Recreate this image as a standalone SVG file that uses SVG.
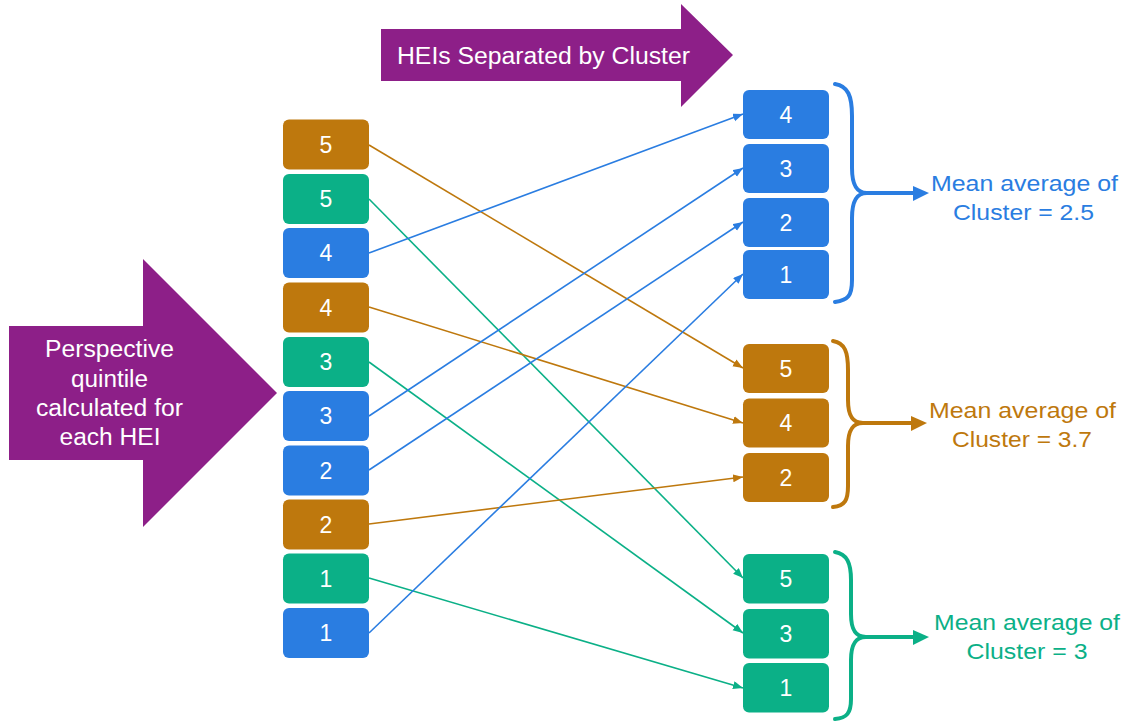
<svg xmlns="http://www.w3.org/2000/svg" width="1132" height="722" viewBox="0 0 1132 722">
<style>
text{font-family:"Liberation Sans",Arial,sans-serif}
.box text{fill:#fff;font-size:23px;text-anchor:middle}
.bl{fill:#2A7DE1}.br{fill:#BE780D}.gr{fill:#0BB087}
.lbl{font-size:22.5px;text-anchor:middle}
.ar{fill:#8D1F88}
.arT{fill:#fff;font-size:23px;text-anchor:middle}
.cb{stroke:#2A7DE1}.cr{stroke:#BE780D}.cg{stroke:#0BB087}
#connectors line{stroke-width:1.6;fill:none}
.brace{fill:none;stroke-width:4;stroke-linecap:round}
</style>
<defs>
<marker id="mb" markerUnits="userSpaceOnUse" markerWidth="12" markerHeight="10" refX="10" refY="4" orient="auto"><path d="M0,0 L10,4 L0,8 z" fill="#2A7DE1"/></marker>
<marker id="mr" markerUnits="userSpaceOnUse" markerWidth="12" markerHeight="10" refX="10" refY="4" orient="auto"><path d="M0,0 L10,4 L0,8 z" fill="#BE780D"/></marker>
<marker id="mg" markerUnits="userSpaceOnUse" markerWidth="12" markerHeight="10" refX="10" refY="4" orient="auto"><path d="M0,0 L10,4 L0,8 z" fill="#0BB087"/></marker>
</defs>

<g id="arrow-top">
<polygon class="ar" points="381,29 681,29 681,4 733,55 681,107 681,81 381,81"/>
<text class="arT" x="543.5" y="64" textLength="293" lengthAdjust="spacingAndGlyphs">HEIs Separated by Cluster</text>
</g>
<g id="arrow-left">
<polygon class="ar" points="9,326 143,326 143,259 277,393 143,527 143,460 9,460"/>
<text class="arT" x="109.5" y="357" textLength="129" lengthAdjust="spacingAndGlyphs">Perspective</text>
<text class="arT" x="109.5" y="387" textLength="77" lengthAdjust="spacingAndGlyphs">quintile</text>
<text class="arT" x="109.5" y="416" textLength="147" lengthAdjust="spacingAndGlyphs">calculated for</text>
<text class="arT" x="110" y="445" textLength="101" lengthAdjust="spacingAndGlyphs">each HEI</text>
</g>

<g id="connectors">
<line class="cr" x1="369" y1="145" x2="743" y2="368" marker-end="url(#mr)"/>
<line class="cg" x1="369" y1="199" x2="743" y2="578" marker-end="url(#mg)"/>
<line class="cb" x1="369" y1="253" x2="743" y2="114" marker-end="url(#mb)"/>
<line class="cr" x1="369" y1="307" x2="743" y2="423" marker-end="url(#mr)"/>
<line class="cg" x1="369" y1="362" x2="743" y2="633" marker-end="url(#mg)"/>
<line class="cb" x1="369" y1="416" x2="743" y2="168" marker-end="url(#mb)"/>
<line class="cb" x1="369" y1="470" x2="743" y2="222" marker-end="url(#mb)"/>
<line class="cr" x1="369" y1="524" x2="743" y2="477" marker-end="url(#mr)"/>
<line class="cg" x1="369" y1="578" x2="743" y2="688" marker-end="url(#mg)"/>
<line class="cb" x1="369" y1="633" x2="743" y2="274" marker-end="url(#mb)"/>
</g>

<g id="left-5a" class="box"><rect class="br" x="283" y="119.5" width="86" height="50" rx="6"/><text x="326" y="152.5">5</text></g>
<g id="left-5b" class="box"><rect class="gr" x="283" y="174" width="86" height="50" rx="6"/><text x="326" y="207">5</text></g>
<g id="left-4a" class="box"><rect class="bl" x="283" y="228" width="86" height="50" rx="6"/><text x="326" y="261">4</text></g>
<g id="left-4b" class="box"><rect class="br" x="283" y="282.5" width="86" height="50" rx="6"/><text x="326" y="315.5">4</text></g>
<g id="left-3a" class="box"><rect class="gr" x="283" y="337" width="86" height="50" rx="6"/><text x="326" y="370">3</text></g>
<g id="left-3b" class="box"><rect class="bl" x="283" y="391" width="86" height="50" rx="6"/><text x="326" y="424">3</text></g>
<g id="left-2a" class="box"><rect class="bl" x="283" y="445.5" width="86" height="50" rx="6"/><text x="326" y="478.5">2</text></g>
<g id="left-2b" class="box"><rect class="br" x="283" y="499.5" width="86" height="50" rx="6"/><text x="326" y="532.5">2</text></g>
<g id="left-1a" class="box"><rect class="gr" x="283" y="553.5" width="86" height="50" rx="6"/><text x="326" y="586.5">1</text></g>
<g id="left-1b" class="box"><rect class="bl" x="283" y="608" width="86" height="50" rx="6"/><text x="326" y="641">1</text></g>

<g id="blue-4" class="box"><rect class="bl" x="743" y="90" width="86" height="49" rx="6"/><text x="786" y="122.5">4</text></g>
<g id="blue-3" class="box"><rect class="bl" x="743" y="144" width="86" height="49" rx="6"/><text x="786" y="176.5">3</text></g>
<g id="blue-2" class="box"><rect class="bl" x="743" y="198" width="86" height="49" rx="6"/><text x="786" y="230.5">2</text></g>
<g id="blue-1" class="box"><rect class="bl" x="743" y="250" width="86" height="49" rx="6"/><text x="786" y="282.5">1</text></g>

<g id="brown-5" class="box"><rect class="br" x="743" y="344" width="86" height="49" rx="6"/><text x="786" y="376.5">5</text></g>
<g id="brown-4" class="box"><rect class="br" x="743" y="398.5" width="86" height="49" rx="6"/><text x="786" y="431">4</text></g>
<g id="brown-2" class="box"><rect class="br" x="743" y="453" width="86" height="49" rx="6"/><text x="786" y="485.5">2</text></g>

<g id="green-5" class="box"><rect class="gr" x="743" y="554" width="86" height="49.5" rx="6"/><text x="786" y="586.5">5</text></g>
<g id="green-3" class="box"><rect class="gr" x="743" y="609" width="86" height="49.5" rx="6"/><text x="786" y="641.5">3</text></g>
<g id="green-1" class="box"><rect class="gr" x="743" y="663" width="86" height="49.5" rx="6"/><text x="786" y="695.5">1</text></g>

<g id="brace-blue">
<path class="brace cb" d="M835,84 C848,86 852,96 852,116 L852,168 C852,184 856,193 867,193 C856,193 852,202 852,218 L852,280 C852,296 848,300 835,302"/>
<line class="cb" x1="866" y1="193" x2="916" y2="193" stroke-width="4"/>
<polygon fill="#2A7DE1" points="913,186 929,193 913,201"/>
<text class="lbl" fill="#2A7DE1" x="1024.5" y="191" textLength="187" lengthAdjust="spacingAndGlyphs">Mean average of</text>
<text class="lbl" fill="#2A7DE1" x="1023.5" y="220" textLength="141" lengthAdjust="spacingAndGlyphs">Cluster = 2.5</text>
</g>
<g id="brace-brown">
<path class="brace cr" d="M833,341 C845,343 848,352 848,370 L848,400 C848,415 852,423 863,423 C852,423 848,431 848,446 L848,486 C848,500 845,506 833,507"/>
<line class="cr" x1="862" y1="423" x2="914" y2="423" stroke-width="4"/>
<polygon fill="#BE780D" points="911,416 927,423 911,431"/>
<text class="lbl" fill="#BE780D" x="1022.5" y="418" textLength="187" lengthAdjust="spacingAndGlyphs">Mean average of</text>
<text class="lbl" fill="#BE780D" x="1022" y="447" textLength="140" lengthAdjust="spacingAndGlyphs">Cluster = 3.7</text>
</g>
<g id="brace-green">
<path class="brace cg" d="M835,552 C847,554 851,563 851,580 L851,614 C851,629 855,637 866,637 C855,637 851,645 851,660 L851,699 C851,713 847,718 835,719"/>
<line class="cg" x1="865" y1="637" x2="916" y2="637" stroke-width="4"/>
<polygon fill="#0BB087" points="913,630 929,637 913,645"/>
<text class="lbl" fill="#0BB087" x="1027" y="630" textLength="186" lengthAdjust="spacingAndGlyphs">Mean average of</text>
<text class="lbl" fill="#0BB087" x="1027" y="659" textLength="121" lengthAdjust="spacingAndGlyphs">Cluster = 3</text>
</g>
</svg>
